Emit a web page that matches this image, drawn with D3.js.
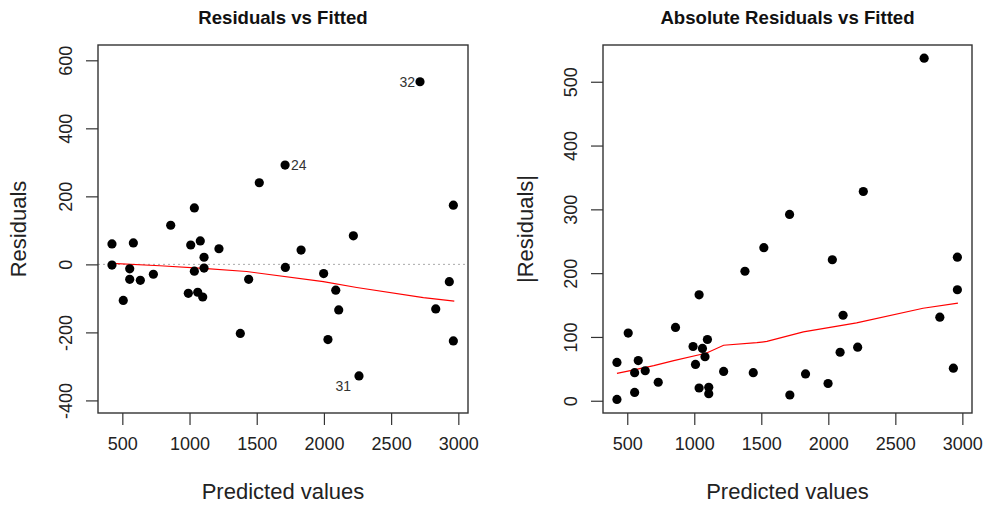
<!DOCTYPE html>
<html>
<head>
<meta charset="utf-8">
<script src="https://cdn.jsdelivr.net/npm/d3@7"></script>
<style>
  body { margin: 0; background: #fff; }
  svg { font-family: "Liberation Sans", Arial, sans-serif; }
</style>
</head>
<body>
<svg id="chart" width="986" height="508"></svg>
<script>
// fitted values and residuals
const fitted = [423, 423, 507, 555, 555, 582, 634, 731, 860, 1009, 991, 1036, 1036, 1080, 1061, 1098, 1108, 1108,
  1219, 1378, 1440, 1519, 1711, 1713, 1830, 1998, 2030, 2088, 2110, 2219, 2261, 2715, 2832, 2933, 2963, 2963]
const residuals = [60, -2, -106, -13, -44, 63, -47, -29, 115, 57, -85, 166, -20, 69, -82, -96, 21, -11,
  46, -203, -44, 240, 292, -9, 42, -27, -221, -76, -134, 84, -328, 537, -131, -51, 174, -225]

// labelled observations (index into arrays above)
const labelIndex = [22, 30, 31]
const labelText = ['24', '31', '32']

// smoother lines
const smoothResX = [423, 780, 1102, 1425, 1996, 2244, 2740, 2970]
const smoothResY = [3, -4, -12, -21, -51, -68, -98, -108]
const smoothAbsX = [423, 550, 698, 847, 1045, 1084, 1219, 1467, 1542, 1814, 2013, 2211, 2707, 2967]
const smoothAbsY = [43, 48.5, 55, 63, 72.5, 74, 87, 91, 93, 108, 115, 122, 145, 153]

const xTicks = [500, 1000, 1500, 2000, 2500, 3000]
const resTicks = [-400, -200, 0, 200, 400, 600]
const absTicks = [0, 100, 200, 300, 400, 500]

const svg = d3.select('#chart')
const plain = d => String(d)   // R uses a hyphen for negatives

function panel (opt) {
  const x = d3.scaleLinear().domain([319, 3072]).range([opt.left, opt.right])
  const y = d3.scaleLinear().domain(opt.yDomain).range([413, 45])
  const g = svg.append('g')
  const cx = (opt.left + opt.right) / 2

  // x axis
  const xa = g.append('g').attr('transform', 'translate(0,413)')
    .call(d3.axisBottom(x).tickValues(xTicks).tickSize(12).tickPadding(12).tickFormat(plain))
  xa.select('.domain').remove()
  xa.selectAll('line').attr('stroke', '#333').attr('stroke-width', 1.2)
  xa.selectAll('text').attr('font-size', 18).attr('fill', '#222')
    .attr('font-family', '"Liberation Sans", Arial, sans-serif')

  // y axis, labels rotated like R
  const ya = g.append('g').attr('transform', 'translate(' + opt.left + ',0)')
    .call(d3.axisLeft(y).tickValues(opt.yTicks).tickSize(12).tickFormat(plain))
  ya.select('.domain').remove()
  ya.selectAll('line').attr('stroke', '#333').attr('stroke-width', 1.2)
  ya.selectAll('text')
    .attr('font-size', 18).attr('fill', '#222')
    .attr('font-family', '"Liberation Sans", Arial, sans-serif')
    .attr('x', null).attr('dy', null)
    .attr('text-anchor', 'middle')
    .attr('transform', 'translate(-26,0) rotate(-90)')

  if (opt.zeroLine) {
    g.append('line')
      .attr('x1', opt.left).attr('x2', opt.right)
      .attr('y1', y(0)).attr('y2', y(0))
      .attr('stroke', '#aaa').attr('stroke-width', 1).attr('stroke-dasharray', '2,3')
  }

  // smoother
  const line = d3.line().x(d => x(d[0])).y(d => y(d[1]))
  g.append('path')
    .datum(d3.zip(opt.sx, opt.sy))
    .attr('d', line)
    .attr('fill', 'none').attr('stroke', '#ff0000').attr('stroke-width', 1.2)

  // points
  g.selectAll('circle').data(d3.zip(fitted, opt.vals)).enter().append('circle')
    .attr('cx', d => x(d[0])).attr('cy', d => y(d[1])).attr('r', 4.6)
    .attr('fill', '#000')

  // box
  g.append('rect')
    .attr('x', opt.left).attr('y', 45)
    .attr('width', opt.right - opt.left).attr('height', 368)
    .attr('fill', 'none').attr('stroke', '#333').attr('stroke-width', 1.4)

  // titles
  g.append('text').attr('x', cx).attr('y', 24).attr('text-anchor', 'middle')
    .attr('font-size', 18.6).attr('font-weight', 'bold').attr('fill', '#111').text(opt.title)
  g.append('text').attr('x', cx).attr('y', 499).attr('text-anchor', 'middle')
    .attr('font-size', 22).attr('fill', '#222').text('Predicted values')
  g.append('text')
    .attr('transform', 'translate(' + opt.ylabX + ',' + 229 + ') rotate(-90)')
    .attr('text-anchor', 'middle').attr('font-size', 22).attr('fill', '#222').text(opt.ylab)

  return { g: g, x: x, y: y }
}

const left = panel({
  left: 98, right: 468, yDomain: [-437, 645], yTicks: resTicks,
  vals: residuals, sx: smoothResX, sy: smoothResY, zeroLine: true,
  title: 'Residuals vs Fitted', ylab: 'Residuals', ylabX: 26
})

panel({
  left: 603, right: 972, yDomain: [-19.2, 557.6], yTicks: absTicks,
  vals: residuals.map(Math.abs), sx: smoothAbsX, sy: smoothAbsY, zeroLine: false,
  title: 'Absolute Residuals vs Fitted', ylab: '|Residuals|', ylabX: 533
})

// id labels on the left panel
labelIndex.forEach(function (idx, i) {
  const px = left.x(fitted[idx]), py = left.y(residuals[idx])
  const t = left.g.append('text').attr('font-size', 14).attr('fill', '#333').text(labelText[i])
  if (labelText[i] === '24') t.attr('x', px + 6).attr('y', py + 5).attr('text-anchor', 'start')
  else if (labelText[i] === '32') t.attr('x', px - 5).attr('y', py + 5).attr('text-anchor', 'end')
  else t.attr('x', px - 8).attr('y', py + 15).attr('text-anchor', 'end')
})
</script>
</body>
</html>
